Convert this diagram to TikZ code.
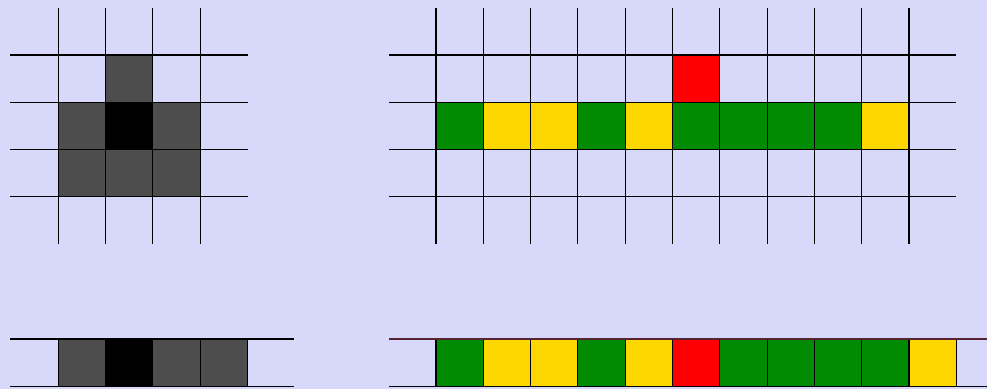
\documentclass[tikz,border=0pt]{standalone}
\usepackage{tikz}
\definecolor{bg}{RGB}{216,216,250}
\definecolor{cgreen}{RGB}{0,139,0}
\definecolor{cyellow}{RGB}{255,215,0}
\definecolor{cred}{RGB}{255,0,0}
\definecolor{cgray}{RGB}{77,77,77}
\definecolor{maroon}{RGB}{85,35,50}
\begin{document}
\begin{tikzpicture}[x=1pt,y=-1pt,
  gridline/.style={line width=1.1pt,black},
  cell/.style={draw=black,line width=1.1pt}]
\fill[bg] (0,0) rectangle (987,389);
\useasboundingbox (0,0) rectangle (987,389);
\def\s{47.3}
% left 2D grid cells
\foreach \c/\r/\col in {1/0/cgray,0/1/cgray,1/1/black,2/1/cgray,0/2/cgray,1/2/cgray,2/2/cgray}
  \filldraw[cell,fill=\col] ({58.3+\c*\s},{55+\r*\s}) rectangle ++(\s,\s);
\foreach \i in {0,...,3}
  \draw[gridline] ({58.3+\i*\s},8) -- ({58.3+\i*\s},244);
\foreach \j in {0,...,3}
  \draw[gridline] (10,{55+\j*\s}) -- (247.5,{55+\j*\s});
% right 2D grid cells
\filldraw[cell,fill=cred] ({436+5*\s},55) rectangle ++(\s,\s);
\foreach \c/\col in {0/cgreen,1/cyellow,2/cyellow,3/cgreen,4/cyellow,5/cgreen,6/cgreen,7/cgreen,8/cgreen,9/cyellow}
  \filldraw[cell,fill=\col] ({436+\c*\s},{55+\s}) rectangle ++(\s,\s);
\foreach \i in {0,...,10}
  \draw[gridline] ({436+\i*\s},8) -- ({436+\i*\s},244);
\foreach \j in {0,...,3}
  \draw[gridline] (389,{55+\j*\s}) -- (956,{55+\j*\s});
% bottom left strip
\foreach \c/\col in {0/cgray,1/black,2/cgray,3/cgray}
  \filldraw[cell,fill=\col] ({58.3+\c*\s},339) rectangle ++(\s,\s);
\draw[gridline] (10,339) -- (294,339);
\draw[gridline] (10,386.3) -- (294,386.3);
% bottom right strip
\foreach \c/\col in {0/cgreen,1/cyellow,2/cyellow,3/cgreen,4/cyellow,5/cred,6/cgreen,7/cgreen,8/cgreen,9/cgreen,10/cyellow}
  \filldraw[cell,fill=\col] ({436+\c*\s},339) rectangle ++(\s,\s);
\draw[gridline,maroon] (389,339) -- (987,339);
\draw[gridline] (389,386.3) -- (987,386.3);
\end{tikzpicture}
\end{document}
